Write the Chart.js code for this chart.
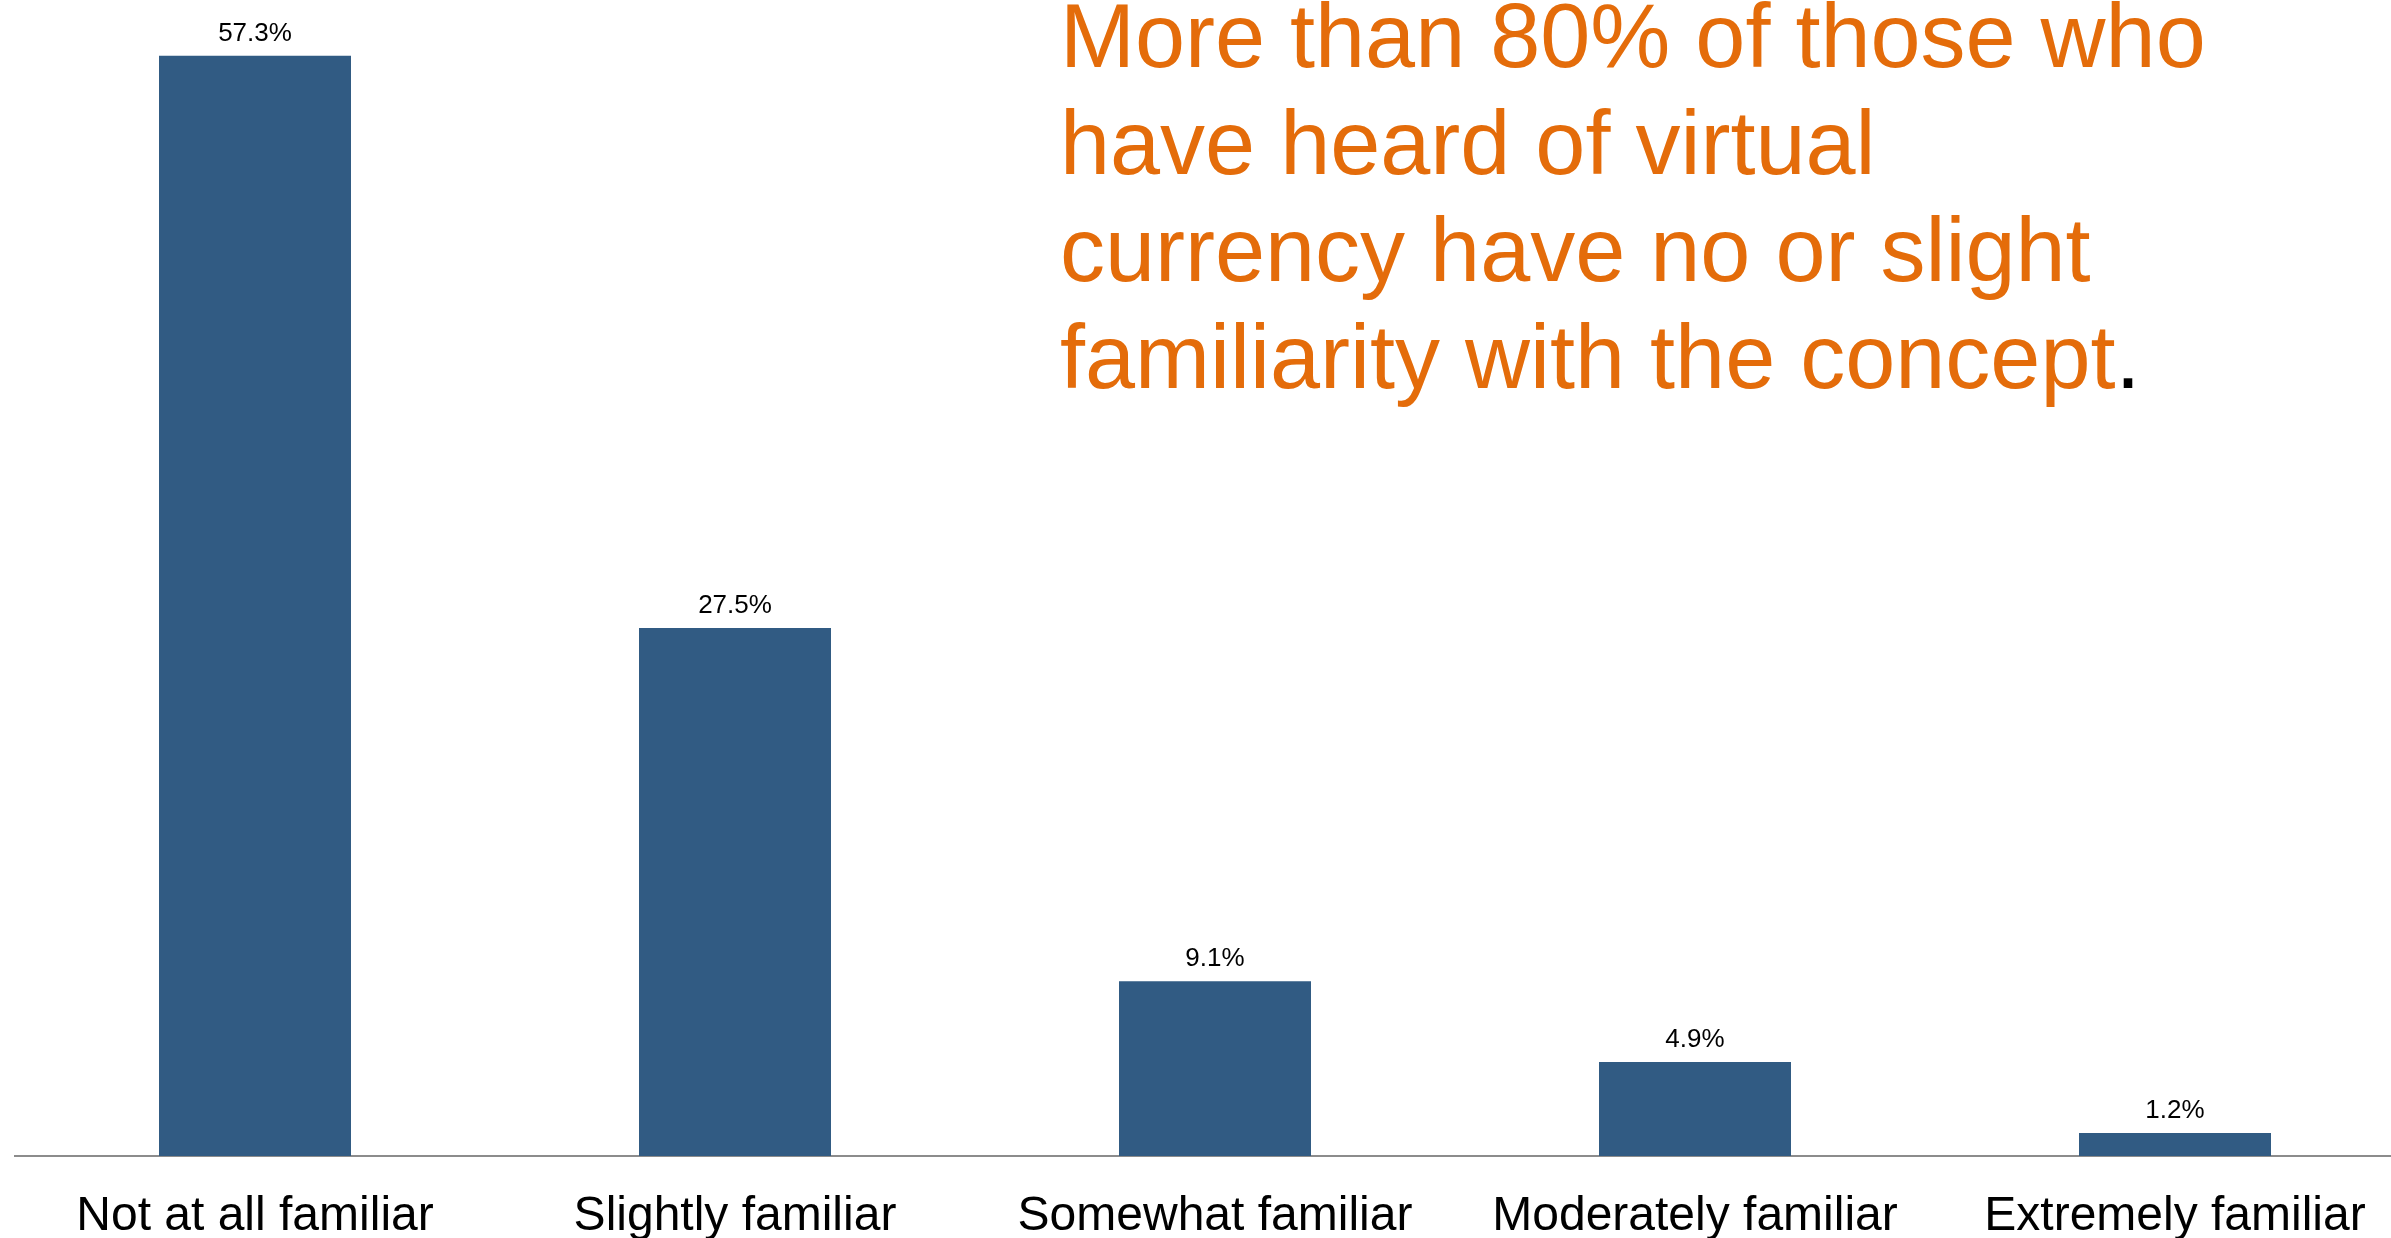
<!DOCTYPE html>
<html>
<head>
<meta charset="utf-8">
<script src="https://cdn.jsdelivr.net/npm/chart.js@4"></script>
<style>
  html, body { margin: 0; padding: 0; background: #fff; overflow: hidden; }
  #wrap { position: relative; width: 2415px; height: 1238px; }
  #note {
    position: absolute; left: 1060px; top: -17px;
    font-family: "Liberation Sans", Arial, sans-serif;
    font-size: 90px; line-height: 107px; color: #E46C0A;
    white-space: nowrap;
  }
  #note span { color: #000; }
</style>
</head>
<body>
<div id="wrap">
  <canvas id="myChart"></canvas>
  <div id="note">More than 80% of those who<br>have heard of virtual<br>currency have no or slight<br>familiarity with the concept<span>.</span></div>
</div>
<script>
var Labels = ["Not at all familiar", "Slightly familiar", "Somewhat familiar", "Moderately familiar", "Extremely familiar"];
var Percent = [57.3, 27.5, 9.1, 4.9, 1.2];
var yTicks = [0, 60];

// value labels above each bar
var barLabels = {
  id: "barLabels",
  afterDatasetsDraw: function (chart) {
    var ctx = chart.ctx;
    var meta = chart.getDatasetMeta(0);
    ctx.save();
    ctx.font = "26px 'Liberation Sans', Arial, sans-serif";
    ctx.fillStyle = "#000";
    ctx.textAlign = "center";
    ctx.textBaseline = "alphabetic";
    for (var i = 0; i < meta.data.length; i++) {
      var bar = meta.data[i];
      ctx.fillText(Percent[i].toFixed(1) + "%", bar.x, bar.y - 15);
    }
    ctx.restore();
  }
};

var ctx = document.getElementById("myChart").getContext("2d");
var myChart = new Chart(ctx, {
  type: "bar",
  data: {
    labels: Labels,
    datasets: [
      {
        data: Percent,
        backgroundColor: "#315B83",
        borderWidth: 0,
        barPercentage: 0.4,
        categoryPercentage: 1.0
      }
    ]
  },
  options: {
    responsive: true,
    maintainAspectRatio: false,
    animation: false,
    layout: { padding: { left: 15, right: 0, top: 4, bottom: 0 } },
    plugins: {
      legend: { display: false },
      tooltip: { enabled: false }
    },
    scales: {
      x: {
        afterFit: function (scale) { scale.height = 82; },
        grid: { display: false, drawTicks: false },
        border: { display: true, color: "#8c8c8c", width: 2 },
        ticks: {
          color: "#000",
          padding: 32,
          maxRotation: 0,
          font: { family: "'Liberation Sans', Arial, sans-serif", size: 48 }
        }
      },
      y: {
        display: false,
        min: yTicks[0],
        max: yTicks[1]
      }
    }
  },
  plugins: [barLabels]
});
</script>
</body>
</html>
